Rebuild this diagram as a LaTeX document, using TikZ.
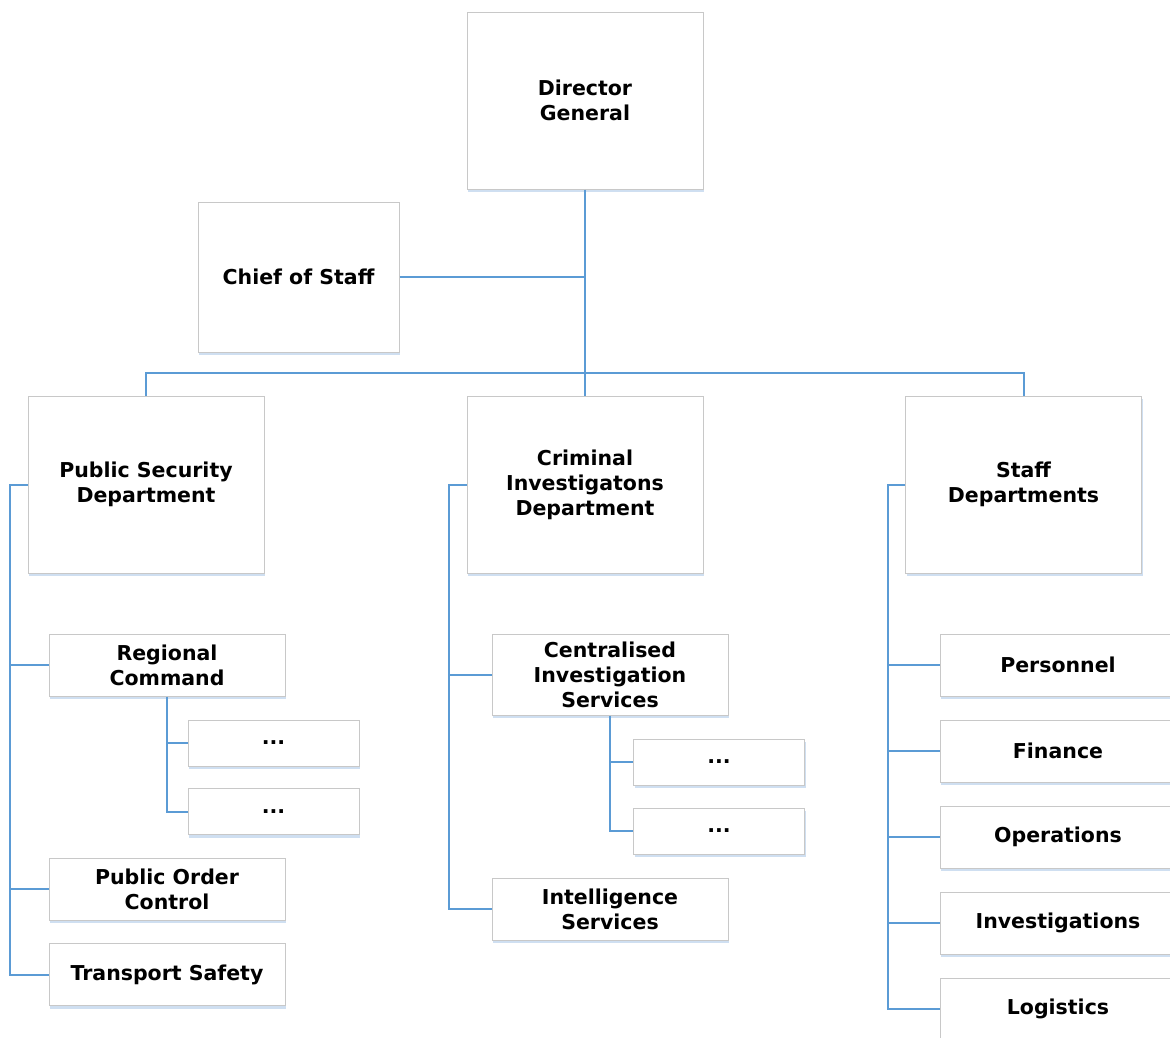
\documentclass[tikz,border=0pt]{standalone}
\usepackage{fontspec}
\setmainfont{DejaVu Sans}
\usetikzlibrary{shadows}
\definecolor{linec}{HTML}{5B9BD5}
\definecolor{boxc}{HTML}{C8C8C8}
\definecolor{shadc}{HTML}{C4D7EE}
\tikzset{
  box/.style={draw=boxc, fill=white, line width=1pt, inner sep=0pt, align=center,
    font=\bfseries\fontsize{20.5}{25}\selectfont,
    drop shadow={shadow xshift=1pt, shadow yshift=-3pt, fill=shadc, opacity=0.8}},
  big/.style={box, minimum width=236pt, minimum height=177pt},
  mid/.style={box, minimum width=236pt, minimum height=62pt},
  small/.style={box, minimum width=171pt, minimum height=46pt},
  conn/.style={draw=linec, line width=2pt}
}
\begin{document}
\begin{tikzpicture}[x=1pt,y=-1pt]
\useasboundingbox (0,0) rectangle (1170,1037);
\clip (0,0) rectangle (1170,1037);
\fill[white] (0,0) rectangle (1170,1037);
% top level
\node[big] (dg) at (585,100.5) {Director\\General};
\node[box, minimum width=201pt, minimum height=150pt] (cos) at (298.5,277) {Chief of Staff};
\node[big] (psd) at (146,484.5) {Public Security\\Department};
\node[big] (cid) at (585,484.5) {Criminal\\Investigatons\\Department};
\node[big] (sd) at (1023.5,484.5) {Staff\\Departments};
% left branch
\node[mid] (rc) at (167,665) {Regional\\Command};
\node[small] (rc1) at (273.5,743) {...};
\node[small] (rc2) at (273.5,811.5) {...};
\node[mid] (poc) at (167,889) {Public Order\\Control};
\node[mid] (ts) at (167,974.5) {Transport Safety};
% middle branch
\node[box, minimum width=236pt, minimum height=81pt] (cis) at (610,674.5) {Centralised\\Investigation\\Services};
\node[small] (cis1) at (719,762) {...};
\node[small] (cis2) at (719,831) {...};
\node[mid] (is) at (610,909) {Intelligence\\Services};
% right branch
\node[mid] (per) at (1058,665) {Personnel};
\node[mid] (fin) at (1058,751) {Finance};
\node[mid] (ops) at (1058,837) {Operations};
\node[mid] (inv) at (1058,923) {Investigations};
\node[mid] (log) at (1058,1009) {Logistics};
% connectors top
\coordinate (bar) at (585,373);
\draw[conn] (dg.south) -- (cid.north);
\draw[conn] (cos.east) -- (cos.east -| dg.south);
\draw[conn] (psd.north) |- (bar) -| (sd.north);
% left bus
\coordinate (lbus) at (10,0);
\draw[conn] (psd.west) -- (psd.west -| lbus) |- (ts.west);
\draw[conn] (lbus |- rc.west) -- (rc.west);
\draw[conn] (lbus |- poc.west) -- (poc.west);
\draw[conn] (rc.south) |- (rc2.west);
\draw[conn] (rc.south |- rc1.west) -- (rc1.west);
% middle bus
\coordinate (mbus) at (449,0);
\draw[conn] (cid.west) -- (cid.west -| mbus) |- (is.west);
\draw[conn] (mbus |- cis.west) -- (cis.west);
\draw[conn] (cis.south) |- (cis2.west);
\draw[conn] (cis.south |- cis1.west) -- (cis1.west);
% right bus
\coordinate (rbus) at (888,0);
\draw[conn] (sd.west) -- (sd.west -| rbus) |- (log.west);
\draw[conn] (rbus |- per.west) -- (per.west);
\draw[conn] (rbus |- fin.west) -- (fin.west);
\draw[conn] (rbus |- ops.west) -- (ops.west);
\draw[conn] (rbus |- inv.west) -- (inv.west);
\end{tikzpicture}
\end{document}
